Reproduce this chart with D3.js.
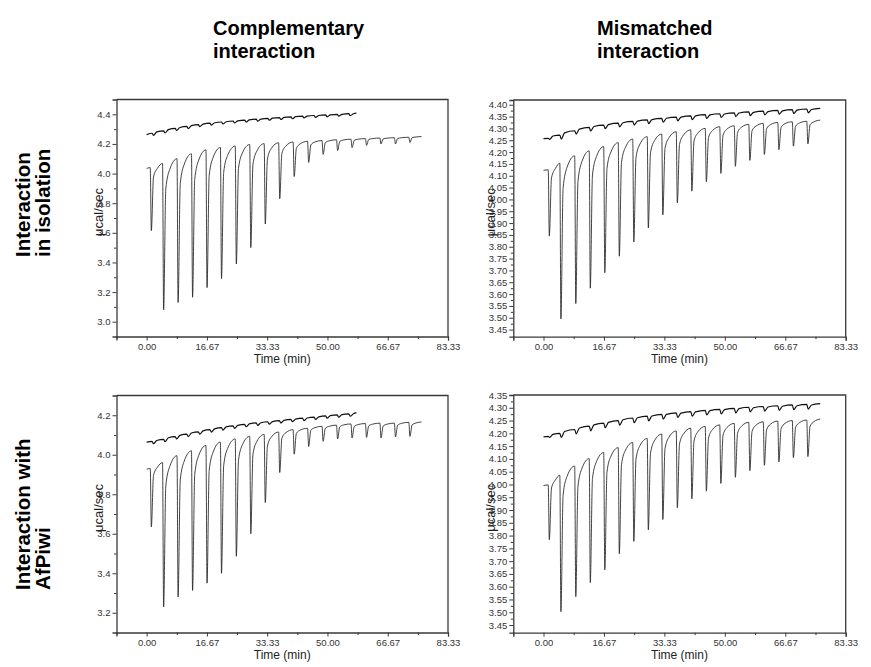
<!DOCTYPE html>
<html><head><meta charset="utf-8">
<script src="https://d3js.org/d3.v7.min.js"></script>
<style>body{margin:0;background:#fff}svg{display:block}</style>
</head><body>
<svg id="chart" width="871" height="667"></svg>
<script>
// ---------- text ----------
const columnTitles = [["Complementary", "interaction"], ["Mismatched", "interaction"]];
const rowTitles = [["Interaction", "in isolation"], ["Interaction with", "AfPiwi"]];
const yAxisTitle = "\u03bccal/sec";
const xAxisTitle = "Time (min)";

// ---------- x axis (minutes) ----------
const xDomain = [-8.33, 83.33];
const xMajorTicks = [0, 16.67, 33.33, 50, 66.67, 83.33];
const xTickLabels = ["0.00", "16.67", "33.33", "50.00", "66.67", "83.33"];
const xMinorTicks = [-8.33, 8.33, 25, 41.67, 58.33, 75];

// ---------- y axes ----------
const yDomainP1 = [2.9, 4.5];
const yMajorP1 = [3.0, 3.2, 3.4, 3.6, 3.8, 4.0, 4.2, 4.4];
const yMinorP1 = [3.1, 3.3, 3.5, 3.7, 3.9, 4.1, 4.3];
const yDomainP2 = [3.42, 4.42];
const yMajorP2 = [3.45, 3.50, 3.55, 3.60, 3.65, 3.70, 3.75, 3.80, 3.85, 3.90, 3.95, 4.00, 4.05, 4.10, 4.15, 4.20, 4.25, 4.30, 4.35, 4.40];
const yMinorP2 = [3.475, 3.525, 3.575, 3.625, 3.675, 3.725, 3.775, 3.825, 3.875, 3.925, 3.975, 4.025, 4.075, 4.125, 4.175, 4.225, 4.275, 4.325, 4.375];
const yDomainP3 = [3.1, 4.3];
const yMajorP3 = [3.2, 3.4, 3.6, 3.8, 4.0, 4.2];
const yMinorP3 = [3.3, 3.5, 3.7, 3.9, 4.1];
const yDomainP4 = [3.42, 4.35];
const yMajorP4 = [3.45, 3.50, 3.55, 3.60, 3.65, 3.70, 3.75, 3.80, 3.85, 3.90, 3.95, 4.00, 4.05, 4.10, 4.15, 4.20, 4.25, 4.30, 4.35];
const yMinorP4 = [3.475, 3.525, 3.575, 3.625, 3.675, 3.725, 3.775, 3.825, 3.875, 3.925, 3.975, 4.025, 4.075, 4.125, 4.175, 4.225, 4.275, 4.325];

// ---------- titration traces ----------
// base = level just before each injection (last entry: level at trace end)
// min = bottom of each injection peak; rise1 / rise2 = level ~0.6 and ~1.7 min after the peak
// Panel 1: complementary, in isolation
const p1InjTimes = [1.0, 4.4, 8.4, 12.4, 16.4, 20.4, 24.5, 28.5, 32.5, 36.5, 40.5, 44.5, 48.5, 52.5, 56.5, 60.5, 64.5, 68.5, 72.5];
const p1Start = [0, 4.035];
const p1End = 76.0;
const p1Base = [4.040, 4.068, 4.100, 4.133, 4.160, 4.176, 4.186, 4.196, 4.202, 4.208, 4.213, 4.218, 4.223, 4.228, 4.232, 4.236, 4.240, 4.242, 4.245, 4.250];
const p1Min = [3.615, 3.08, 3.13, 3.165, 3.23, 3.29, 3.39, 3.50, 3.66, 3.83, 3.98, 4.075, 4.13, 4.155, 4.175, 4.19, 4.20, 4.20, 4.21];
const p1Rise1 = [3.977, 3.896, 3.932, 3.961, 3.987, 4.007, 4.035, 4.062, 4.098, 4.136, 4.170, 4.193, 4.208, 4.217, 4.224, 4.230, 4.234, 4.236, 4.242];
const p1Rise2 = [4.036, 4.029, 4.063, 4.090, 4.110, 4.123, 4.140, 4.153, 4.170, 4.186, 4.201, 4.213, 4.221, 4.227, 4.232, 4.236, 4.239, 4.242, 4.247];
// Panel 1 control (upper) trace
const p1CtrlTimes = [1.5, 4.7, 7.9, 11.1, 14.3, 17.5, 20.7, 23.9, 27.1, 30.3, 33.5, 36.7, 39.9, 43.1, 46.3, 49.5, 52.7, 55.9];
const p1CtrlStart = [0, 4.263];
const p1CtrlEnd = 58.0;
const p1CtrlBase = [4.272, 4.288, 4.305, 4.318, 4.330, 4.340, 4.348, 4.355, 4.361, 4.367, 4.373, 4.378, 4.383, 4.388, 4.392, 4.396, 4.400, 4.404, 4.408];
const p1CtrlDip = [4.258, 4.274, 4.291, 4.304, 4.317, 4.327, 4.335, 4.342, 4.348, 4.354, 4.360, 4.365, 4.370, 4.375, 4.379, 4.383, 4.387, 4.391];
const p1CtrlRise = [4.281, 4.297, 4.311, 4.324, 4.334, 4.343, 4.350, 4.356, 4.362, 4.368, 4.374, 4.379, 4.384, 4.388, 4.392, 4.396, 4.400, 4.404];

// Panel 2: mismatched, in isolation
const p2InjTimes = [1.3, 4.5, 8.6, 12.6, 16.6, 20.6, 24.6, 28.6, 32.6, 36.6, 40.6, 44.6, 48.6, 52.6, 56.6, 60.6, 64.6, 68.6, 72.6];
const p2Start = [0, 4.123];
const p2End = 76.3;
const p2Base = [4.125, 4.153, 4.184, 4.205, 4.223, 4.240, 4.255, 4.265, 4.276, 4.286, 4.294, 4.300, 4.307, 4.311, 4.317, 4.321, 4.325, 4.328, 4.330, 4.335];
const p2Min = [3.845, 3.495, 3.56, 3.625, 3.69, 3.76, 3.82, 3.88, 3.935, 3.985, 4.035, 4.075, 4.11, 4.14, 4.165, 4.19, 4.21, 4.225, 4.235];
const p2Rise1 = [4.091, 4.046, 4.076, 4.103, 4.130, 4.156, 4.176, 4.197, 4.216, 4.232, 4.247, 4.261, 4.271, 4.282, 4.290, 4.298, 4.304, 4.309, 4.315];
const p2Rise2 = [4.131, 4.136, 4.160, 4.181, 4.201, 4.220, 4.234, 4.248, 4.261, 4.272, 4.281, 4.291, 4.297, 4.305, 4.310, 4.316, 4.320, 4.323, 4.328];
const p2CtrlTimes = [1.3, 4.5, 8.6, 12.6, 16.6, 20.6, 24.6, 28.6, 32.6, 36.6, 40.6, 44.6, 48.6, 52.6, 56.6, 60.6, 64.6, 68.6, 72.6];
const p2CtrlStart = [0, 4.257];
const p2CtrlEnd = 76.3;
const p2CtrlBase = [4.258, 4.272, 4.290, 4.304, 4.314, 4.322, 4.330, 4.336, 4.342, 4.348, 4.353, 4.358, 4.362, 4.366, 4.370, 4.373, 4.376, 4.379, 4.382, 4.385];
const p2CtrlDip = [4.254, 4.255, 4.276, 4.289, 4.299, 4.306, 4.314, 4.320, 4.326, 4.332, 4.337, 4.342, 4.346, 4.350, 4.354, 4.357, 4.360, 4.363, 4.366];
const p2CtrlRise = [4.268, 4.281, 4.297, 4.308, 4.316, 4.324, 4.331, 4.337, 4.343, 4.348, 4.353, 4.357, 4.361, 4.365, 4.368, 4.371, 4.374, 4.377, 4.380];

// Panel 3: complementary, with AfPiwi
const p3InjTimes = [1.0, 4.4, 8.4, 12.4, 16.4, 20.4, 24.5, 28.5, 32.5, 36.5, 40.5, 44.5, 48.5, 52.5, 56.5, 60.5, 64.5, 68.5, 72.5];
const p3Start = [0, 3.927];
const p3End = 76.0;
const p3Base = [3.930, 3.960, 3.995, 4.020, 4.047, 4.064, 4.080, 4.093, 4.103, 4.115, 4.127, 4.134, 4.144, 4.150, 4.156, 4.158, 4.160, 4.160, 4.164, 4.166];
const p3Min = [3.635, 3.229, 3.28, 3.313, 3.35, 3.40, 3.486, 3.60, 3.758, 3.91, 4.003, 4.042, 4.068, 4.08, 4.085, 4.088, 4.085, 4.09, 4.093];
const p3Rise1 = [3.895, 3.842, 3.872, 3.900, 3.921, 3.944, 3.972, 4.002, 4.044, 4.084, 4.108, 4.124, 4.134, 4.141, 4.143, 4.146, 4.145, 4.149, 4.151];
const p3Rise2 = [3.937, 3.941, 3.968, 3.996, 4.014, 4.032, 4.051, 4.068, 4.090, 4.112, 4.125, 4.137, 4.144, 4.151, 4.153, 4.155, 4.155, 4.159, 4.161];
const p3CtrlTimes = [1.5, 4.7, 7.9, 11.1, 14.3, 17.5, 20.7, 23.9, 27.1, 30.3, 33.5, 36.7, 39.9, 43.1, 46.3, 49.5, 52.7, 55.9];
const p3CtrlStart = [0, 4.064];
const p3CtrlEnd = 58.0;
const p3CtrlBase = [4.068, 4.078, 4.092, 4.104, 4.116, 4.127, 4.137, 4.146, 4.154, 4.161, 4.167, 4.173, 4.179, 4.185, 4.191, 4.197, 4.202, 4.207, 4.213];
const p3CtrlDip = [4.056, 4.066, 4.080, 4.092, 4.104, 4.115, 4.125, 4.134, 4.142, 4.149, 4.155, 4.161, 4.167, 4.173, 4.179, 4.185, 4.190, 4.195];
const p3CtrlRise = [4.072, 4.086, 4.098, 4.110, 4.121, 4.131, 4.141, 4.149, 4.156, 4.162, 4.168, 4.174, 4.180, 4.186, 4.192, 4.198, 4.203, 4.208];

// Panel 4: mismatched, with AfPiwi
const p4InjTimes = [1.3, 4.5, 8.6, 12.6, 16.6, 20.6, 24.6, 28.6, 32.6, 36.6, 40.6, 44.6, 48.6, 52.6, 56.6, 60.6, 64.6, 68.6, 72.6];
const p4Start = [0, 3.996];
const p4End = 76.3;
const p4Base = [3.998, 4.036, 4.072, 4.101, 4.125, 4.144, 4.164, 4.180, 4.197, 4.209, 4.220, 4.227, 4.233, 4.239, 4.243, 4.245, 4.248, 4.250, 4.252, 4.256];
const p4Min = [3.784, 3.502, 3.561, 3.616, 3.666, 3.729, 3.777, 3.823, 3.863, 3.909, 3.944, 3.974, 4.004, 4.028, 4.054, 4.075, 4.088, 4.105, 4.109];
const p4Rise1 = [3.986, 3.958, 3.993, 4.023, 4.048, 4.077, 4.099, 4.122, 4.140, 4.158, 4.170, 4.181, 4.192, 4.200, 4.207, 4.213, 4.218, 4.223, 4.227];
const p4Rise2 = [4.018, 4.032, 4.063, 4.089, 4.111, 4.134, 4.152, 4.171, 4.185, 4.198, 4.207, 4.215, 4.223, 4.228, 4.232, 4.236, 4.239, 4.242, 4.246];
const p4CtrlTimes = [1.3, 4.5, 8.6, 12.6, 16.6, 20.6, 24.6, 28.6, 32.6, 36.6, 40.6, 44.6, 48.6, 52.6, 56.6, 60.6, 64.6, 68.6, 72.6];
const p4CtrlStart = [0, 4.186];
const p4CtrlEnd = 76.3;
const p4CtrlBase = [4.188, 4.200, 4.215, 4.228, 4.240, 4.250, 4.260, 4.267, 4.274, 4.280, 4.285, 4.290, 4.294, 4.298, 4.302, 4.305, 4.308, 4.311, 4.313, 4.316];
const p4CtrlDip = [4.184, 4.184, 4.198, 4.210, 4.222, 4.232, 4.242, 4.249, 4.256, 4.262, 4.267, 4.272, 4.276, 4.280, 4.284, 4.287, 4.290, 4.293, 4.295];
const p4CtrlRise = [4.196, 4.207, 4.221, 4.233, 4.243, 4.253, 4.261, 4.268, 4.274, 4.279, 4.284, 4.289, 4.293, 4.297, 4.300, 4.303, 4.306, 4.308, 4.311];

// ---------- assemble panels ----------
const panels = [
  {box: [116.5, 99.5, 448, 336.5], yDomain: yDomainP1, yMajor: yMajorP1, yMinor: yMinorP1, fmt: ".1f", yLabelOff: 18,
   main: {times: p1InjTimes, start: p1Start, end: p1End, base: p1Base, min: p1Min, r1: p1Rise1, r2: p1Rise2},
   ctrl: {times: p1CtrlTimes, start: p1CtrlStart, end: p1CtrlEnd, base: p1CtrlBase, dip: p1CtrlDip, rise: p1CtrlRise}},
  {box: [513.3, 100, 845.7, 336.7], yDomain: yDomainP2, yMajor: yMajorP2, yMinor: yMinorP2, fmt: ".2f", yLabelOff: 22,
   main: {times: p2InjTimes, start: p2Start, end: p2End, base: p2Base, min: p2Min, r1: p2Rise1, r2: p2Rise2},
   ctrl: {times: p2CtrlTimes, start: p2CtrlStart, end: p2CtrlEnd, base: p2CtrlBase, dip: p2CtrlDip, rise: p2CtrlRise}},
  {box: [116.5, 395.5, 448, 632.5], yDomain: yDomainP3, yMajor: yMajorP3, yMinor: yMinorP3, fmt: ".1f", yLabelOff: 18,
   main: {times: p3InjTimes, start: p3Start, end: p3End, base: p3Base, min: p3Min, r1: p3Rise1, r2: p3Rise2},
   ctrl: {times: p3CtrlTimes, start: p3CtrlStart, end: p3CtrlEnd, base: p3CtrlBase, dip: p3CtrlDip, rise: p3CtrlRise}},
  {box: [513.3, 395, 845.7, 632.7], yDomain: yDomainP4, yMajor: yMajorP4, yMinor: yMinorP4, fmt: ".2f", yLabelOff: 22,
   main: {times: p4InjTimes, start: p4Start, end: p4End, base: p4Base, min: p4Min, r1: p4Rise1, r2: p4Rise2},
   ctrl: {times: p4CtrlTimes, start: p4CtrlStart, end: p4CtrlEnd, base: p4CtrlBase, dip: p4CtrlDip, rise: p4CtrlRise}}
];

const svg = d3.select("#chart");
const FONT = "'Liberation Sans', Arial, Helvetica, sans-serif";
const AXIS_COLOR = "#3a3a3a";

// column titles (two separate lines)
const colX = [213, 597];
columnTitles.forEach((lines, c) => {
  lines.forEach((s, i) => {
    svg.append("text").attr("x", colX[c]).attr("y", 35 + i * 23)
      .attr("font-family", FONT).attr("font-weight", "bold").attr("font-size", 20).attr("fill", "#000")
      .text(s);
  });
});

// row titles (rotated)
const rowStartY = [257, 590];
rowTitles.forEach((lines, r) => {
  lines.forEach((s, i) => {
    svg.append("text")
      .attr("transform", `translate(${30 + i * 20},${rowStartY[r]}) rotate(-90)`)
      .attr("font-family", FONT).attr("font-weight", "bold").attr("font-size", 20.5).attr("fill", "#000")
      .text(s);
  });
});

panels.forEach(p => {
  const [x0, y0, x1, y1] = p.box;
  const x = d3.scaleLinear().domain(xDomain).range([x0, x1]);
  const y = d3.scaleLinear().domain(p.yDomain).range([y1, y0]);
  const g = svg.append("g");

  // frame (top and right)
  g.append("path").attr("d", `M${x0},${y0}H${x1}V${y1}`)
    .attr("fill", "none").attr("stroke", AXIS_COLOR).attr("stroke-width", 1.3);

  // x axis
  const xa = g.append("g").attr("transform", `translate(0,${y1})`)
    .call(d3.axisBottom(x).tickValues(xMajorTicks).tickSize(4).tickPadding(3)
      .tickFormat((d, i) => xTickLabels[i]));
  const xm = g.append("g").attr("transform", `translate(0,${y1})`)
    .call(d3.axisBottom(x).tickValues(xMinorTicks).tickSize(2.5).tickFormat(""));
  // y axis
  const ya = g.append("g").attr("transform", `translate(${x0},0)`)
    .call(d3.axisLeft(y).tickValues(p.yMajor).tickSize(4).tickPadding(2).tickFormat(d3.format(p.fmt)));
  const ym = g.append("g").attr("transform", `translate(${x0},0)`)
    .call(d3.axisLeft(y).tickValues(p.yMinor).tickSize(2.5).tickFormat(""));
  [xa, xm, ya, ym].forEach(a => {
    a.select(".domain").attr("stroke", AXIS_COLOR).attr("stroke-width", 1.3);
    a.selectAll(".tick line").attr("stroke", AXIS_COLOR).attr("stroke-width", 1);
    a.selectAll("text").attr("font-family", FONT).attr("font-size", 9.5).attr("fill", "#333");
  });
  xm.select(".domain").remove();
  ym.select(".domain").remove();

  // axis titles
  g.append("text").attr("x", (x0 + x1) / 2).attr("y", y1 + 26)
    .attr("text-anchor", "middle").attr("font-family", FONT).attr("font-size", 12).attr("fill", "#222")
    .text(xAxisTitle);
  g.append("text")
    .attr("transform", `translate(${x0 - p.yLabelOff + 4},${(y0 + y1) / 2 - 6}) rotate(-90)`)
    .attr("text-anchor", "middle").attr("font-family", FONT).attr("font-size", 13).attr("fill", "#222")
    .text(yAxisTitle);

  const line = d3.line().x(d => x(d[0])).y(d => y(d[1])).curve(d3.curveMonotoneX);

  // main titration trace
  const m = p.main;
  const mainPts = [m.start];
  m.times.forEach((t, i) => {
    mainPts.push([t, m.base[i]]);
    mainPts.push([t + 0.3, m.min[i]]);
    mainPts.push([t + 0.9, m.r1[i]]);
    mainPts.push([t + 2.0, m.r2[i]]);
  });
  mainPts.push([m.end, m.base[m.times.length]]);
  g.append("path").attr("d", line(mainPts))
    .attr("fill", "none").attr("stroke", "#222").attr("stroke-width", 0.85);

  // control (upper) trace
  const c = p.ctrl;
  const ctrlPts = [c.start];
  c.times.forEach((t, i) => {
    ctrlPts.push([t, c.base[i]]);
    ctrlPts.push([t + 0.4, c.dip[i]]);
    ctrlPts.push([t + 1.3, c.rise[i]]);
  });
  ctrlPts.push([c.end, c.base[c.times.length]]);
  g.append("path").attr("d", line(ctrlPts))
    .attr("fill", "none").attr("stroke", "#111").attr("stroke-width", 1.2);
});
</script>
</body></html>
